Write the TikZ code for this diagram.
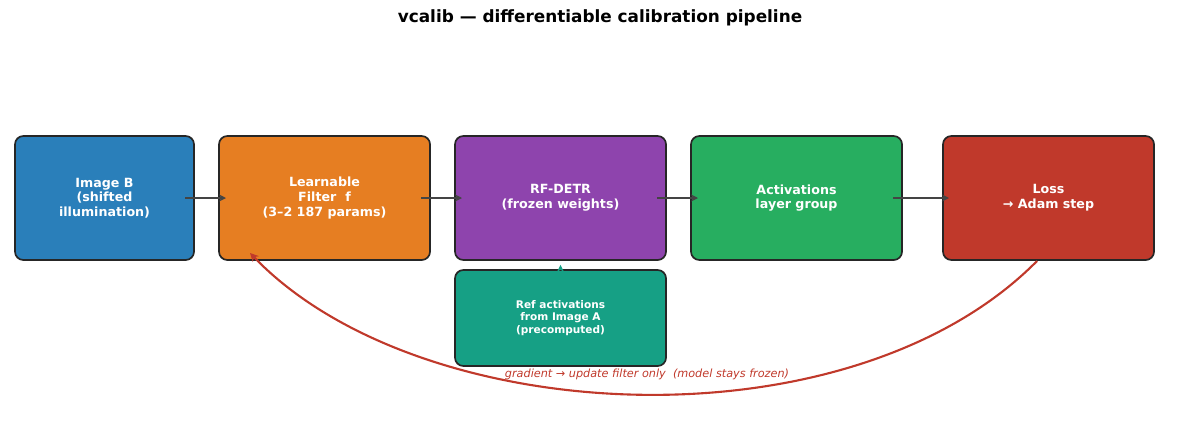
\documentclass[tikz,border=0pt]{standalone}
\usepackage{fontspec}
\setmainfont{DejaVu Sans}
\usetikzlibrary{positioning, arrows.meta}
\definecolor{cblue}{HTML}{2A7FBA}
\definecolor{corange}{HTML}{E67E22}
\definecolor{cpurple}{HTML}{8E44AD}
\definecolor{cgreen}{HTML}{27AE60}
\definecolor{cred}{HTML}{C0392B}
\definecolor{cteal}{HTML}{16A085}
\definecolor{cgray}{HTML}{444444}
\tikzset{
  stage/.style={draw=black!85, line width=1.2pt, rounded corners=6pt, text=white, align=center,
    font=\bfseries\fontsize{9}{10.5}\selectfont, minimum height=3.1cm, inner sep=0pt},
  flow/.style={-{Stealth[length=5pt,width=5pt]}, draw=cgray, line width=1.5pt},
}
\begin{document}
\begin{tikzpicture}[x=0.025cm, y=-0.025cm]
  \useasboundingbox (0,0) rectangle (1200,442);
  \node[font=\bfseries\fontsize{12}{14}\selectfont] (title) at (600,18) {vcalib — differentiable calibration pipeline};
  \node[stage, fill=cblue, minimum width=4.475cm] (imgb) at (104.5,198) {Image B\\(shifted\\illumination)};
  \node[stage, fill=corange, minimum width=5.275cm] (filter) at (324.5,198) {Learnable\\Filter\ \ f\\(3–2 187 params)};
  \node[stage, fill=cpurple, minimum width=5.275cm] (detr) at (560.5,198) {RF-DETR\\(frozen weights)};
  \node[stage, fill=cgreen, minimum width=5.275cm] (act) at (796.5,198) {Activations\\layer group};
  \node[stage, fill=cred, minimum width=5.275cm] (loss) at (1048.5,198) {Loss\\→ Adam step};
  \node[stage, fill=cteal, minimum width=5.275cm, minimum height=2.4cm,
    font=\bfseries\fontsize{7.5}{9}\selectfont] (ref) at (560.5,318) {Ref activations\\from Image A\\(precomputed)};
  \coordinate (lossfoot) at (1037,261);
  \coordinate (filterfoot) at (250,253);
  \draw[flow] (185,198) -- (226,198);
  \draw[flow] (421,198) -- (462,198);
  \draw[flow] (657,198) -- (698,198);
  \draw[flow] (893,198) -- (949,198);
  \draw[-{Stealth[length=5pt,width=5pt]}, draw=cteal, line width=1pt] (ref.north) -- ([yshift=-0.1cm]detr.south);
  \draw[-{Stealth[length=6pt,width=6pt]}, draw=cred, line width=1.5pt]
    (lossfoot) .. controls (850,450) and (420,430) .. (filterfoot);
  \node[text=cred, font=\itshape\fontsize{8}{10}\selectfont] (grad) at (647,374)
    {gradient → update filter only\ \ (model stays frozen)};
\end{tikzpicture}
\end{document}
